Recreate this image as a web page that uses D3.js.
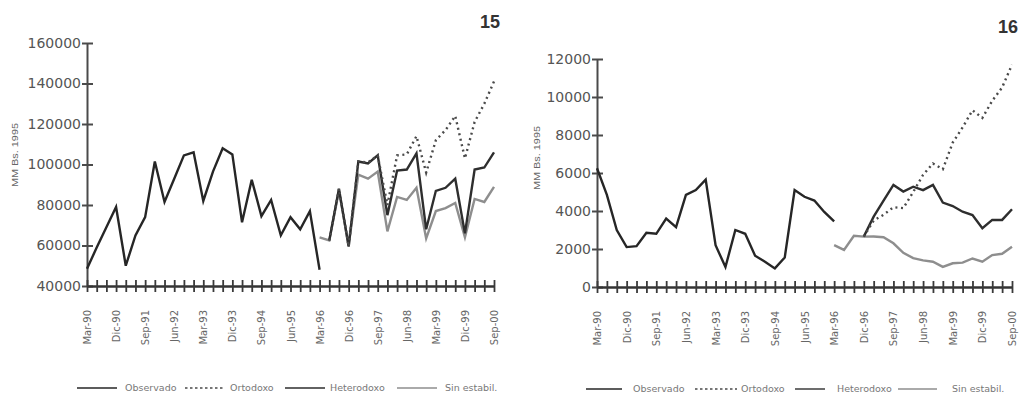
<!DOCTYPE html>
<html>
<head>
<meta charset="utf-8">
<script src="https://cdn.jsdelivr.net/npm/d3@7"></script>
<style>
  body { margin: 0; background: #fff; }
  svg { display: block; }
</style>
</head>
<body>
<script>
// Quarter labels, Mar-90 .. Sep-00
const quarters = [
  "Mar-90","Jun-90","Sep-90","Dic-90","Mar-91","Jun-91","Sep-91","Dic-91",
  "Mar-92","Jun-92","Sep-92","Dic-92","Mar-93","Jun-93","Sep-93","Dic-93",
  "Mar-94","Jun-94","Sep-94","Dic-94","Mar-95","Jun-95","Sep-95","Dic-95",
  "Mar-96","Jun-96","Sep-96","Dic-96","Mar-97","Jun-97","Sep-97","Dic-97",
  "Mar-98","Jun-98","Sep-98","Dic-98","Mar-99","Jun-99","Sep-99","Dic-99",
  "Mar-00","Jun-00","Sep-00"
];
const legendNames = ["Observado", "Ortodoxo", "Heterodoxo", "Sin estabil."];

// Chart 15
const observado15 = [48500, 59000, 69000, 79000, 50000, 65000, 74000, 101500, 81500, 93000,
  104500, 106000, 82000, 96500, 108000, 105000, 71500, 92500, 74500, 82500,
  65000, 74000, 68000, 77000, 48000];
const ortodoxo15Start = 25;
const ortodoxo15 = [62500, 88000, 59500, 101500, 101000, 104500, 80000, 104500, 105000,
  114000, 96000, 112000, 117000, 124000, 103000, 121000, 130000, 141000];
const heterodoxo15Start = 25;
const heterodoxo15 = [62500, 88000, 59500, 101500, 100500, 104500, 75000, 97000, 97500,
  105500, 68000, 87000, 88500, 93000, 66000, 97500, 98500, 106000];
const sinEstab15Start = 24;
const sinEstab15 = [64000, 62500, 87000, 60000, 95000, 93000, 96500, 67000, 84000, 82500,
  88500, 63500, 77000, 78500, 81000, 64000, 83000, 81500, 89000];
const yTicks15 = [40000, 60000, 80000, 100000, 120000, 140000, 160000];

// Chart 16
const observado16 = [6250, 4850, 3000, 2100, 2150, 2850, 2800, 3600, 3150, 4850,
  5100, 5650, 2200, 1050, 3000, 2800, 1650, 1330, 980, 1550,
  5100, 4750, 4550, 3950, 3450];
const ortodoxo16Start = 27;
const ortodoxo16 = [2650, 3500, 3800, 4200, 4150, 5000, 5900, 6500, 6200, 7600,
  8400, 9300, 8900, 9800, 10500, 11700];
const heterodoxo16Start = 27;
const heterodoxo16 = [2650, 3700, 4550, 5370, 5020, 5280, 5100, 5370, 4440, 4260,
  3960, 3790, 3090, 3530, 3530, 4090];
const sinEstab16Start = 24;
const sinEstab16 = [2200, 1950, 2700, 2650, 2660, 2620, 2300, 1800, 1520, 1400,
  1330, 1060, 1250, 1280, 1500, 1330, 1680, 1750, 2120];
const yTicks16 = [0, 2000, 4000, 6000, 8000, 10000, 12000];

const width = 1020;
const height = 394;

const svg = d3.select("body")
  .append("svg")
  .attr("width", width)
  .attr("height", height);

const styles = {
  observado: { stroke: "#262626", dash: null, w: 2.4 },
  ortodoxo: { stroke: "#4a4a4a", dash: "2,3.6", w: 2.4 },
  heterodoxo: { stroke: "#2e2e2e", dash: null, w: 2.4 },
  sinEstab: { stroke: "#8e8e8e", dash: null, w: 2.4 }
};

// turn an offset array into index/value points
function toPoints(values, start) {
  return values.map((v, k) => ({ i: start + k, v: v }));
}

function drawChart(cfg) {
  const g = svg.append("g");
  const x = d3.scaleLinear().domain([0, quarters.length - 1]).range([cfg.x0, cfg.x1]);
  const y = d3.scaleLinear().domain(cfg.yDomain).range([cfg.yBottom, cfg.yTop]);

  // y axis
  const yAxis = d3.axisLeft(y).tickValues(cfg.yTicks).tickSize(0).tickPadding(6)
    .tickFormat(d3.format("d"));
  const ya = g.append("g").attr("transform", `translate(${cfg.x0},0)`).call(yAxis);
  ya.select(".domain").attr("stroke", "#4a4a4a").attr("stroke-width", 2);
  ya.selectAll("text")
    .attr("font-family", "DejaVu Sans")
    .attr("font-size", 14)
    .attr("fill", "#555");
  ya.selectAll(".tick").append("line")
    .attr("x1", -5).attr("x2", 6)
    .attr("stroke", "#4a4a4a").attr("stroke-width", 2);

  // x axis with a crossing tick on every quarter
  const xAxis = d3.axisBottom(x).tickValues(d3.range(quarters.length)).tickSize(0)
    .tickFormat(i => (i % 3 === 0 ? quarters[i] : ""));
  const xa = g.append("g").attr("transform", `translate(0,${cfg.yBottom})`).call(xAxis);
  xa.select(".domain").attr("stroke", "#333").attr("stroke-width", 2.4);
  xa.selectAll(".tick").append("line")
    .attr("y1", -6).attr("y2", 6)
    .attr("stroke", "#3a3a3a").attr("stroke-width", 1.8);
  xa.selectAll("text")
    .attr("font-family", "DejaVu Sans")
    .attr("font-size", 10)
    .attr("fill", "#666")
    .attr("text-anchor", "end")
    .attr("transform", "rotate(-90)")
    .attr("x", -24)
    .attr("y", 0)
    .attr("dy", "0.35em");

  // y title
  g.append("text")
    .attr("transform", `translate(${cfg.titleX},${cfg.titleY}) rotate(-90)`)
    .attr("text-anchor", "middle")
    .attr("dy", "0.35em")
    .attr("font-family", "Liberation Sans")
    .attr("font-size", 9)
    .attr("textLength", 64)
    .attr("lengthAdjust", "spacingAndGlyphs")
    .attr("fill", "#666")
    .text("MM Bs. 1995");

  // figure number
  g.append("text")
    .attr("x", cfg.numX).attr("y", cfg.numY)
    .attr("text-anchor", "end")
    .attr("font-family", "Liberation Sans")
    .attr("font-weight", "bold")
    .attr("font-size", 18)
    .attr("fill", "#333")
    .text(cfg.num);

  const line = d3.line().x(d => x(d.i)).y(d => y(d.v));
  const series = [
    { pts: toPoints(cfg.sinEstab, cfg.sinEstabStart), s: styles.sinEstab },
    { pts: toPoints(cfg.heterodoxo, cfg.heterodoxoStart), s: styles.heterodoxo },
    { pts: toPoints(cfg.ortodoxo, cfg.ortodoxoStart), s: styles.ortodoxo },
    { pts: toPoints(cfg.observado, 0), s: styles.observado }
  ];
  g.selectAll(".series")
    .data(series)
    .enter()
    .append("path")
    .attr("class", "series")
    .attr("d", d => line(d.pts))
    .attr("fill", "none")
    .attr("stroke", d => d.s.stroke)
    .attr("stroke-width", d => d.s.w)
    .attr("stroke-dasharray", d => d.s.dash)
    .attr("stroke-linejoin", "miter");

  // legend
  const legStyles = [styles.observado, styles.ortodoxo, styles.heterodoxo, styles.sinEstab];
  const leg = g.selectAll(".leg")
    .data(legendNames)
    .enter()
    .append("g")
    .attr("class", "leg")
    .attr("transform", (d, k) => `translate(${cfg.legX[k]},${cfg.legY})`);
  leg.append("line")
    .attr("x1", 0).attr("x2", (d, k) => cfg.legLen[k])
    .attr("stroke", (d, k) => legStyles[k].stroke)
    .attr("stroke-width", 1.4)
    .attr("stroke-dasharray", (d, k) => (k === 1 ? "2.5,2.5" : null));
  leg.append("text")
    .attr("x", (d, k) => cfg.legLen[k] + cfg.legGap[k])
    .attr("dy", "0.35em")
    .attr("font-family", "DejaVu Sans")
    .attr("font-size", 9.5)
    .attr("fill", "#777")
    .text(d => d);
}

drawChart({
  num: "15", numX: 500, numY: 28,
  x0: 87, x1: 494, yBottom: 286, yTop: 43,
  yDomain: [40000, 160000], yTicks: yTicks15,
  titleX: 15, titleY: 155,
  observado: observado15,
  ortodoxo: ortodoxo15, ortodoxoStart: ortodoxo15Start,
  heterodoxo: heterodoxo15, heterodoxoStart: heterodoxo15Start,
  sinEstab: sinEstab15, sinEstabStart: sinEstab15Start,
  legX: [77, 185, 285, 397], legLen: [40, 40, 40, 40], legGap: [8, 5, 5, 8], legY: 388
});

drawChart({
  num: "16", numX: 1018, numY: 33,
  x0: 597, x1: 1012, yBottom: 287, yTop: 59,
  yDomain: [0, 12000], yTicks: yTicks16,
  titleX: 537, titleY: 158,
  observado: observado16,
  ortodoxo: ortodoxo16, ortodoxoStart: ortodoxo16Start,
  heterodoxo: heterodoxo16, heterodoxoStart: heterodoxo16Start,
  sinEstab: sinEstab16, sinEstabStart: sinEstab16Start,
  legX: [586, 695, 795, 898], legLen: [36, 42, 30, 39], legGap: [11, 4, 12, 15], legY: 389
});
</script>
</body>
</html>
